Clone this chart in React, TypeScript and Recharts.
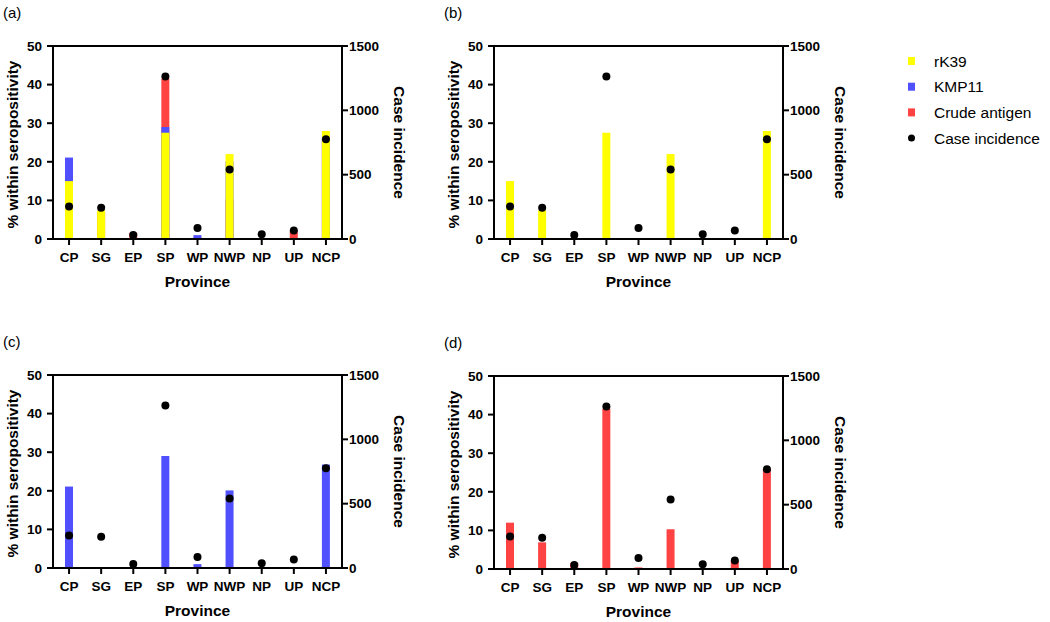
import React from 'react';
import { ComposedChart, Bar, Line, XAxis, YAxis, ReferenceLine, Label } from 'recharts';

// values
const provinces = ['CP', 'SG', 'EP', 'SP', 'WP', 'NWP', 'NP', 'UP', 'NCP'];
const rk39 = [15, 7.4, 0, 27.5, 0, 22, 0, 0, 28];
const kmp11 = [21.1, 0, 0, 29, 1, 20.1, 0, 0, 26.8];
const crude = [12, 6.9, 1.6, 41.5, 0.4, 10.3, 0, 2.1, 25.8];
const cases = [253, 243, 31, 1262, 85, 540, 36, 67, 776];

const leftTicks = [0, 10, 20, 30, 40, 50];
const rightTicks = [0, 500, 1000, 1500];

const FONT = '"Liberation Sans", Arial, sans-serif';

const COLORS = {
  rk39: '#FFFF00',
  kmp11: '#5050FF',
  crude: '#FF4242',
};

const data = provinces.map((p, i) => ({
  province: p,
  rk39: rk39[i],
  kmp11: kmp11[i],
  crude: crude[i],
  cases: cases[i],
}));

const tickStyle = { fill: '#000', fontSize: 13.5, fontWeight: 700, fontFamily: FONT };
const lineStyle = { stroke: '#000', strokeWidth: 2 };
const titleStyle = { fill: '#000', fontSize: 15.5, fontWeight: 700, fontFamily: FONT };

type Key = 'rk39' | 'kmp11' | 'crude';

const Panel: React.FC<{ tag: string; keys: Key[]; left: number; top: number }> = ({ tag, keys, left, top }) => {
  return (
    <div style={{ position: 'absolute', left, top, width: 440, height: 300 }}>
      <div
        style={{
          position: 'absolute',
          left: 3,
          top: 4,
          fontFamily: FONT,
          fontSize: 15,
          color: '#000',
          zIndex: 2,
        }}
      >
        {tag}
      </div>
      <ComposedChart
        width={440}
        height={300}
        data={data}
        margin={{ top: 46, right: 0, bottom: 13, left: 0 }}
        barGap={-8}
      >
        <XAxis
          dataKey="province"
          interval={0}
          height={48}
          tick={tickStyle}
          tickLine={lineStyle}
          axisLine={lineStyle}
          tickSize={6}
          tickMargin={7}
        >
          <Label value="Province" position="insideBottom" offset={0} style={titleStyle} />
        </XAxis>
        <YAxis
          yAxisId="left"
          domain={[0, 50]}
          ticks={leftTicks}
          width={53}
          tick={tickStyle}
          tickLine={lineStyle}
          axisLine={lineStyle}
          tickSize={6}
          tickMargin={5}
        >
          <Label
            value="% within seropositivity"
            angle={-90}
            position="center"
            dx={-14}
            dy={2}
            style={titleStyle}
          />
        </YAxis>
        <YAxis
          yAxisId="right"
          orientation="right"
          domain={[0, 1500]}
          ticks={rightTicks}
          width={98}
          tick={tickStyle}
          tickLine={lineStyle}
          axisLine={lineStyle}
          tickSize={6}
          tickMargin={1}
        >
          <Label value="Case incidence" angle={90} position="center" dx={8.5} style={titleStyle} />
        </YAxis>
        <ReferenceLine yAxisId="left" y={50} stroke="#000" strokeWidth={2} />
        {keys.map((k) => (
          <Bar
            key={k}
            yAxisId="left"
            dataKey={k}
            barSize={8}
            fill={COLORS[k]}
            isAnimationActive={false}
          />
        ))}
        <Line
          yAxisId="right"
          dataKey="cases"
          stroke="none"
          dot={{ r: 4, fill: '#000', stroke: 'none' }}
          activeDot={false}
          isAnimationActive={false}
        />
      </ComposedChart>
    </div>
  );
};

const legendItems = [
  { name: 'rK39', color: COLORS.rk39, shape: 'square' },
  { name: 'KMP11', color: COLORS.kmp11, shape: 'square' },
  { name: 'Crude antigen', color: COLORS.crude, shape: 'square' },
  { name: 'Case incidence', color: '#000', shape: 'circle' },
];

const LegendBox: React.FC = () => (
  <svg style={{ position: 'absolute', left: 890, top: 45 }} width={160} height={110}>
    {legendItems.map((item, i) => {
      const cy = 16 + i * 25.7;
      return (
        <g key={item.name}>
          {item.shape === 'square' ? (
            <rect x={18} y={cy - 4} width={7} height={8} fill={item.color} />
          ) : (
            <circle cx={21.5} cy={cy} r={3.5} fill={item.color} />
          )}
          <text
            x={44}
            y={cy + 5.5}
            fontFamily={FONT}
            fontSize={15.5}
            fill="#000"
          >
            {item.name}
          </text>
        </g>
      );
    })}
  </svg>
);

export default function App() {
  return (
    <div
      style={{
        position: 'absolute',
        left: 0,
        top: 0,
        width: 1050,
        height: 622,
        background: '#fff',
        overflow: 'hidden',
      }}
    >
      <Panel tag="(a)" keys={['crude', 'kmp11', 'rk39']} left={0} top={0} />
      <Panel tag="(b)" keys={['rk39']} left={441} top={0} />
      <Panel tag="(c)" keys={['kmp11']} left={0} top={329} />
      <Panel tag="(d)" keys={['crude']} left={441} top={330} />
      <LegendBox />
    </div>
  );
}
